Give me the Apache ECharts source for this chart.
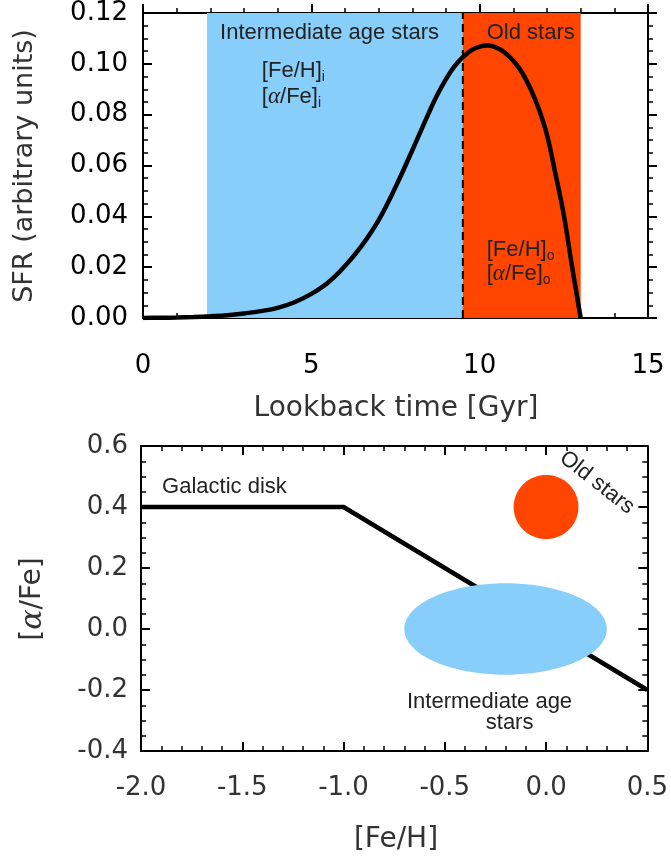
<!DOCTYPE html>
<html>
<head>
<meta charset="utf-8">
<script src="https://cdn.jsdelivr.net/npm/echarts@6/dist/echarts.min.js"></script>
<style>
  html, body { margin: 0; padding: 0; background: #fff; }
  #chart { width: 671px; height: 856px; }
</style>
</head>
<body>
<div id="chart"></div>
<script>
// ---- Top panel: star formation history ----
const lookbackGyr = [0, 0.5, 1, 1.5, 2, 2.5, 3, 3.5, 4, 4.5, 5, 5.5, 6, 6.5, 7, 7.5, 8, 8.5, 8.75, 9, 9.25, 9.5, 9.75, 10, 10.25, 10.5, 10.75, 11, 11.25, 11.5, 11.75, 12, 12.25, 12.5, 12.75, 13];
const sfr = [0, 0.0001, 0.0002, 0.0004, 0.0007, 0.0011, 0.0018, 0.0027, 0.0040, 0.0062, 0.0095, 0.0140, 0.0205, 0.0285, 0.0385, 0.0515, 0.0660, 0.0810, 0.0880, 0.0940, 0.0990, 0.1026, 0.1053, 0.1068, 0.1072, 0.1064, 0.1044, 0.1012, 0.0968, 0.0905, 0.0825, 0.0720, 0.0568, 0.0405, 0.0197, 0];

// Age ranges of the two populations [Gyr]: intermediate age, old
const popAgeStart = [1.9, 9.5];
const popAgeEnd = [9.5, 13.0];
const dividingAge = 9.5;

// ---- Bottom panel: [alpha/Fe] vs [Fe/H] ----
const diskFeH = [-2.0, -1.0, 0.5];
const diskAlphaFe = [0.4, 0.4, -0.2];

// Population loci: centre and half extents (intermediate age, old)
const locusFeH = [-0.2, 0.0];
const locusAlphaFe = [0.0, 0.4];
const locusHalfFeH = [0.5, 0.16];
const locusHalfAlphaFe = [0.15, 0.105];

// Axis ranges
const ageRange = [0, 15], ageStep = 5;
const sfrRange = [0, 0.12], sfrStep = 0.02;
const fehRange = [-2.0, 0.5], fehStep = 0.5;
const alphaRange = [-0.4, 0.6], alphaStep = 0.2;

const popColors = ['#87CEFA', '#FF4500'];
const AXIS_FONT = 'DejaVu Sans';
const NOTE_FONT = 'Liberation Sans';

const fix = d => v => (Math.abs(v) < 1e-9 ? 0 : v).toFixed(d);

function axis(o) {
  return Object.assign({
    type: 'value',
    splitLine: { show: false },
    axisLine: { show: true, onZero: false, lineStyle: { color: '#000', width: 2 } },
    axisTick: { show: true, inside: true, length: 9, lineStyle: { color: '#000', width: 2 } },
    minorTick: { show: true, splitNumber: 5, length: 5, lineStyle: { color: '#000', width: 1.5 } },
    axisLabel: { show: false }
  }, o);
}
const minor = n => ({ show: true, splitNumber: n, length: 5, lineStyle: { color: '#000', width: 1.5 } });
const outerTick = { show: true, inside: false, length: 9, lineStyle: { color: '#000', width: 2 } };
const labelStyle = (color, margin, fmt) => ({
  show: true, color: color, fontSize: 26, fontFamily: AXIS_FONT, margin: margin, formatter: fmt
});

const option = {
  animation: false,
  grid: [
    { left: 143, top: 13, width: 505, height: 305 },
    { left: 141, top: 446, width: 507, height: 305 }
  ],
  xAxis: [
    axis({ gridIndex: 0, position: 'bottom', min: ageRange[0], max: ageRange[1], interval: ageStep,
           minorTick: minor(5), axisLabel: labelStyle('#000', 35, v => String(v)) }),
    axis({ gridIndex: 0, position: 'top', min: ageRange[0], max: ageRange[1], interval: ageStep,
           axisTick: outerTick, minorTick: minor(5) }),
    axis({ gridIndex: 1, position: 'bottom', min: fehRange[0], max: fehRange[1], interval: fehStep,
           minorTick: minor(5), axisLabel: labelStyle('#333', 24, fix(1)) }),
    axis({ gridIndex: 1, position: 'top', min: fehRange[0], max: fehRange[1], interval: fehStep,
           minorTick: minor(5) })
  ],
  yAxis: [
    axis({ gridIndex: 0, position: 'left', min: sfrRange[0], max: sfrRange[1], interval: sfrStep,
           minorTick: minor(4), axisLabel: labelStyle('#000', 15, fix(2)) }),
    axis({ gridIndex: 0, position: 'right', min: sfrRange[0], max: sfrRange[1], interval: sfrStep,
           axisTick: outerTick, minorTick: minor(4) }),
    axis({ gridIndex: 1, position: 'left', min: alphaRange[0], max: alphaRange[1], interval: alphaStep,
           minorTick: minor(4), axisLabel: labelStyle('#333', 13, fix(1)) }),
    axis({ gridIndex: 1, position: 'right', min: alphaRange[0], max: alphaRange[1], interval: alphaStep,
           minorTick: minor(4) })
  ],
  series: [
    // Population age bands, filled down to the axis
    ...popAgeStart.map((s, i) => ({
      type: 'line', xAxisIndex: 0, yAxisIndex: 0, z: 1, silent: true, symbol: 'none',
      data: [[s, sfrRange[1]], [popAgeEnd[i], sfrRange[1]]],
      lineStyle: { width: 0, color: popColors[i] },
      areaStyle: { color: popColors[i], opacity: 1, origin: 'start' }
    })),
    // Boundary between the populations
    {
      type: 'line', xAxisIndex: 0, yAxisIndex: 0, z: 2, silent: true, symbol: 'none',
      data: [[dividingAge, sfrRange[0]], [dividingAge, sfrRange[1]]],
      lineStyle: { color: '#000', width: 2, type: [8, 5] }
    },
    // Star formation rate
    {
      type: 'line', xAxisIndex: 0, yAxisIndex: 0, z: 3, symbol: 'none', smooth: 0.4,
      data: lookbackGyr.map((t, i) => [t, sfr[i]]),
      lineStyle: { color: '#000', width: 4.5 }
    },
    // Disk chemical evolution track
    {
      type: 'line', xAxisIndex: 2, yAxisIndex: 2, z: 2, symbol: 'none',
      data: diskFeH.map((x, i) => [x, diskAlphaFe[i]]),
      lineStyle: { color: '#000', width: 4.5 }
    }
  ]
};

const chart = echarts.init(document.getElementById('chart'));
chart.setOption(option);

// ---- Loci and text, placed through the axes' own data-to-pixel mapping ----
const topPx = p => chart.convertToPixel({ xAxisIndex: 0, yAxisIndex: 0 }, p);
const botPx = p => chart.convertToPixel({ xAxisIndex: 2, yAxisIndex: 2 }, p);

const noteRich = {
  t: { fontSize: 22, fontFamily: NOTE_FONT, fill: '#222', lineHeight: 26 },
  g: { fontSize: 23, fontFamily: 'Liberation Serif', fontStyle: 'italic', fill: '#222', lineHeight: 26 },
  s: { fontSize: 14, fontFamily: NOTE_FONT, fill: '#222', lineHeight: 14, verticalAlign: 'bottom' }
};
function note(pt, text, align, rotationDeg) {
  return {
    type: 'text', x: pt[0], y: pt[1], z: 20, silent: true,
    rotation: (rotationDeg || 0) * Math.PI / 180,
    style: { text: text, rich: noteRich, align: align, verticalAlign: 'middle' }
  };
}
function title(x, y, text, size, rotationDeg, rich) {
  return {
    type: 'text', x: x, y: y, z: 20, silent: true,
    rotation: (rotationDeg || 0) * Math.PI / 180,
    style: { text: text, fontSize: size, fontFamily: AXIS_FONT, fill: '#333',
             align: 'center', verticalAlign: 'middle', rich: rich }
  };
}

const loci = locusFeH.map((cx, i) => {
  const pts = [];
  for (let k = 0; k < 96; k++) {
    const a = 2 * Math.PI * k / 96;
    pts.push(botPx([cx + locusHalfFeH[i] * Math.cos(a), locusAlphaFe[i] + locusHalfAlphaFe[i] * Math.sin(a)]));
  }
  return { type: 'polygon', z: 3, silent: true, shape: { points: pts }, style: { fill: popColors[i] } };
});

const texts = [
  note(topPx([2.29, 0.112]), '{t|Intermediate age stars}', 'left'),
  note(topPx([10.21, 0.112]), '{t|Old stars}', 'left'),
  note(topPx([3.53, 0.0971]), '{t|[Fe/H]}{s|i}', 'left'),
  note(topPx([3.53, 0.0869]), '{t|[}{g|α}{t|/Fe]}{s|i}', 'left'),
  note(topPx([10.21, 0.0267]), '{t|[Fe/H]}{s|o}', 'left'),
  note(topPx([10.21, 0.0173]), '{t|[}{g|α}{t|/Fe]}{s|o}', 'left'),
  note(botPx([-1.896, 0.466]), '{t|Galactic disk}', 'left'),
  note(botPx([0.251, 0.480]), '{t|Old stars}', 'center', -38),
  note(botPx([-0.279, -0.238]), '{t|Intermediate age}', 'center'),
  note(botPx([-0.180, -0.308]), '{t|stars}', 'center'),
  title(25, 166, 'SFR (arbitrary units)', 27, 90),
  title(396, 409, 'Lookback time [Gyr]', 28, 0),
  title(33, 599, '[{a|α}/Fe]', 28, 90,
        { a: { fontSize: 30, fontFamily: 'DejaVu Serif', fontStyle: 'italic', fill: '#333' } }),
  title(396, 840, '[Fe/H]', 28, 0)
];

chart.setOption({ graphic: { elements: loci.concat(texts) } });
</script>
</body>
</html>
